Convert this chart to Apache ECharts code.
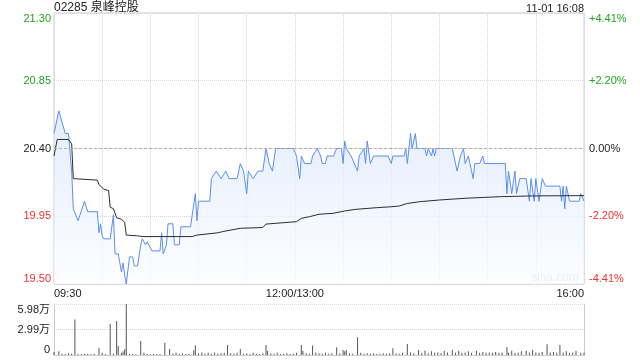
<!DOCTYPE html>
<html><head><meta charset="utf-8">
<script src="https://cdn.jsdelivr.net/npm/echarts@6/dist/echarts.min.js"></script>
<style>html,body{margin:0;padding:0;background:#fff}#c{width:640px;height:360px}</style>
</head><body><div id="c"></div>
<script>
const titleText = '02285 泉峰控股';
const stampText = '11-01 16:08';
const prevClose = 20.40;
const priceTicks = ['19.50','19.95','20.40','20.85','21.30'];
const pctTicks = ['-4.41%','-2.20%','0.00%','+2.20%','+4.41%'];
const volTicks = ['0','2.99万','5.98万'];
const timeLabelMinutes = [0,150,330];
const timeLabels = ['09:30','12:00/13:00','16:00'];

const priceMin = [0,3,4,7,9,11,12,15,19,21,27,28,29,30,31,35,37,38,40,42,43,44,45,47,49,50,52,54,55,57,58,61,66,67,68,70,71,74,75,78,79,85,88,89,90,97,98,101,104,107,109,114,116,118,120,121,124,127,130,132,134,136,138,149,151,153,154,156,160,161,164,166,167,169,170,174,176,179,180,181,182,185,189,190,193,194,195,197,199,208,210,211,218,219,220,222,223,225,226,231,232,233,235,236,237,238,248,251,253,254,255,256,258,259,261,262,265,267,268,281,282,283,285,287,288,290,294,296,297,299,300,302,304,306,315,316,317,318,319,321,327,328,330];
const priceVal = [20.50,20.65,20.65,20.50,20.50,20.25,20.00,19.92,20.05,19.98,19.98,19.84,19.90,19.82,19.80,19.80,19.96,19.70,19.70,19.58,19.64,19.56,19.50,19.68,19.68,19.62,19.62,19.76,19.80,19.76,19.78,19.72,19.72,19.84,19.70,19.76,19.90,19.90,19.76,19.76,19.88,19.88,20.10,19.92,20.05,20.05,20.20,20.25,20.20,20.25,20.20,20.20,20.30,20.25,20.10,20.25,20.20,20.25,20.25,20.40,20.30,20.25,20.40,20.40,20.35,20.20,20.35,20.30,20.30,20.35,20.40,20.35,20.30,20.30,20.35,20.35,20.40,20.40,20.30,20.45,20.40,20.35,20.25,20.35,20.40,20.30,20.45,20.30,20.35,20.35,20.30,20.35,20.35,20.40,20.30,20.50,20.40,20.50,20.40,20.40,20.35,20.40,20.35,20.40,20.35,20.40,20.40,20.25,20.35,20.35,20.40,20.30,20.35,20.30,20.20,20.30,20.30,20.35,20.30,20.30,20.10,20.25,20.10,20.25,20.10,20.20,20.20,20.05,20.20,20.05,20.20,20.05,20.20,20.15,20.15,20.05,20.15,20.00,20.15,20.05,20.05,20.10,20.05];

const avgMin = [0,2,9,11,12,27,28,31,34,35,37,39,42,44,45,52,55,86,89,102,105,116,130,132,151,154,159,165,174,181,188,201,210,215,220,228,240,257,278,298,330];
const avgVal = [20.35,20.46,20.46,20.43,20.20,20.19,20.16,20.13,20.12,20.01,20.00,19.94,19.93,19.91,19.825,19.82,19.815,19.815,19.825,19.84,19.848,19.87,19.875,19.898,19.914,19.936,19.947,19.963,19.97,19.985,19.996,20.007,20.013,20.018,20.035,20.047,20.058,20.07,20.08,20.085,20.087];

const volMin = [0,3,5,7,9,11,13,15,17,19,21,23,25,28,30,32,35,37,39,40,42,43,44,45,47,49,51,54,56,58,60,62,64,66,69,72,74,76,78,80,82,84,87,88,90,92,94,96,98,100,102,104,106,108,110,112,114,116,118,120,122,124,126,128,130,132,133,135,137,139,141,143,145,147,149,151,154,155,157,159,161,163,165,167,169,171,173,176,178,180,181,182,184,186,189,191,193,195,197,199,201,203,205,207,209,211,213,215,217,220,222,224,227,229,231,233,235,237,239,241,243,245,248,250,252,254,256,258,260,263,265,267,269,271,273,275,277,279,282,283,285,287,289,291,294,296,298,300,302,304,307,309,311,313,315,317,319,321,323,325,328,330];
const volVal = [3500,4500,1500,1200,2000,1500,41500,1200,1000,1500,1200,1000,1500,8300,2500,1200,36500,1500,40000,10500,2500,4000,6700,59800,1500,1200,1000,16500,2500,1200,1000,1500,1200,1000,14500,7000,1500,2500,1500,2000,1200,1500,5500,11500,2000,3000,1500,2500,1500,3000,1500,2000,2500,11700,2000,1500,2500,7000,1500,2000,1200,2500,1500,1200,2000,11700,5000,2000,1500,2500,1200,1500,2000,1200,1500,2500,11700,5000,2000,1500,11000,3000,2000,1500,2500,1500,2000,9000,2000,6000,4500,6000,2000,1500,20700,2500,1500,2000,1500,2000,1200,1500,2000,1500,2000,7800,2000,1500,2500,12900,3000,2000,6000,2500,5000,2000,4500,2500,3000,2000,5000,3000,6000,2500,5000,2500,3000,4500,2500,5000,2500,3500,2500,3000,2500,3500,2500,3000,9200,2500,5000,2500,3000,4500,5000,3000,6000,3000,2500,3500,12700,3000,3500,2500,11600,3000,4500,2500,3000,5000,2700,2500];

const zip = (a, b) => a.map((m, i) => [m, b[i]]);
const up = '#22a322', down = '#f0302f';
const font = 'Arial, "Liberation Sans", "Noto Sans CJK SC", sans-serif';
const grid = {color: '#d6d6d6', type: 'dotted'};

const chart = echarts.init(document.getElementById('c'), null, {renderer: 'canvas'});
chart.setOption({
  animation: false,
  textStyle: {fontFamily: font},
  title: [
    {text: titleText, left: 54, top: 2, padding: 0, textStyle: {fontSize: 12, fontWeight: 'normal', color: '#222', fontFamily: font}},
    {text: stampText, right: 56, top: 3, padding: 0, textStyle: {fontSize: 11, fontWeight: 'normal', color: '#222', fontFamily: font}}
  ],
  graphic: [{type: 'text', left: 531, top: 272, silent: true, style: {text: 'sina.com', fill: '#cfcfcf', font: '12px ' + font}}],
  grid: [
    {left: 54, top: 13, width: 530, height: 271, show: true, borderColor: '#cccccc', borderWidth: 1, containLabel: false, outerBoundsMode: 'none'},
    {left: 54, top: 304, width: 530, height: 51, containLabel: false, outerBoundsMode: 'none'}
  ],
  xAxis: [
    {gridIndex: 0, type: 'value', min: 0, max: 330, interval: 30,
      axisLine: {show: false}, axisTick: {show: false},
      splitLine: {show: true, lineStyle: grid},
      axisLabel: {show: true, margin: 4, fontSize: 11, color: '#222', alignMinLabel: 'left', alignMaxLabel: 'right', showMinLabel: true, showMaxLabel: true,
        formatter: v => { const k = timeLabelMinutes.indexOf(Math.round(v)); return k >= 0 ? timeLabels[k] : ''; }}},
    {gridIndex: 1, type: 'value', min: 0, max: 330, interval: 30,
      axisLine: {show: true, onZero: false, lineStyle: {color: '#cccccc'}}, axisTick: {show: false},
      splitLine: {show: false}, axisLabel: {show: false}}
  ],
  yAxis: [
    {gridIndex: 0, type: 'value', position: 'left', min: 19.5, max: 21.3, interval: 0.45,
      axisLine: {show: false}, axisTick: {show: false}, splitLine: {show: true, lineStyle: grid},
      axisLabel: {fontSize: 11, margin: 3, verticalAlignMinLabel: 'bottom', verticalAlignMaxLabel: 'top', showMinLabel: true, showMaxLabel: true,
        formatter: (v, i) => priceTicks[i],
        color: v => (+v > prevClose + 0.001 ? up : (+v < prevClose - 0.001 ? down : '#222'))}},
    {gridIndex: 0, type: 'value', position: 'right', min: 19.5, max: 21.3, interval: 0.45,
      axisLine: {show: false}, axisTick: {show: false}, splitLine: {show: false},
      axisLabel: {fontSize: 11, margin: 5, verticalAlignMinLabel: 'bottom', verticalAlignMaxLabel: 'top', showMinLabel: true, showMaxLabel: true,
        formatter: (v, i) => pctTicks[i],
        color: v => (+v > prevClose + 0.001 ? up : (+v < prevClose - 0.001 ? down : '#222'))}},
    {gridIndex: 1, type: 'value', position: 'left', min: 0, max: 59800, interval: 29900,
      axisLine: {show: true, lineStyle: {color: '#cccccc'}}, axisTick: {show: false},
      splitLine: {show: true, lineStyle: grid},
      axisLabel: {fontSize: 11, margin: 4, color: '#222', verticalAlignMinLabel: 'bottom', verticalAlignMaxLabel: 'top', showMinLabel: true, showMaxLabel: true,
        formatter: (v, i) => volTicks[i]}},
    {gridIndex: 1, type: 'value', position: 'right', min: 0, max: 59800, interval: 29900,
      axisLine: {show: true, lineStyle: {color: '#cccccc'}}, axisTick: {show: false},
      splitLine: {show: false}, axisLabel: {show: false}}
  ],
  series: [
    {type: 'line', name: 'price', xAxisIndex: 0, yAxisIndex: 0, data: zip(priceMin, priceVal),
      showSymbol: false, symbol: 'none', color: '#5a8ff0', lineStyle: {width: 1, color: '#5a8ff0'},
      areaStyle: {origin: 'start', color: {type: 'linear', x: 0, y: 0, x2: 0, y2: 1,
        colorStops: [{offset: 0, color: '#d8e5fb'}, {offset: 1, color: '#fafcff'}]}},
      markLine: {silent: true, symbol: ['none', 'none'], label: {show: false},
        lineStyle: {color: '#b0b0b0', type: [3, 2], width: 1}, data: [{yAxis: prevClose}]}},
    {type: 'line', name: 'avg', xAxisIndex: 0, yAxisIndex: 0, data: zip(avgMin, avgVal),
      showSymbol: false, symbol: 'none', color: '#2b2b2b', lineStyle: {width: 1, color: '#2b2b2b'}},
    {type: 'bar', name: 'vol', xAxisIndex: 1, yAxisIndex: 2, data: zip(volMin, volVal),
      barWidth: 1, itemStyle: {color: '#555555'}}
  ]
});
</script></body></html>
